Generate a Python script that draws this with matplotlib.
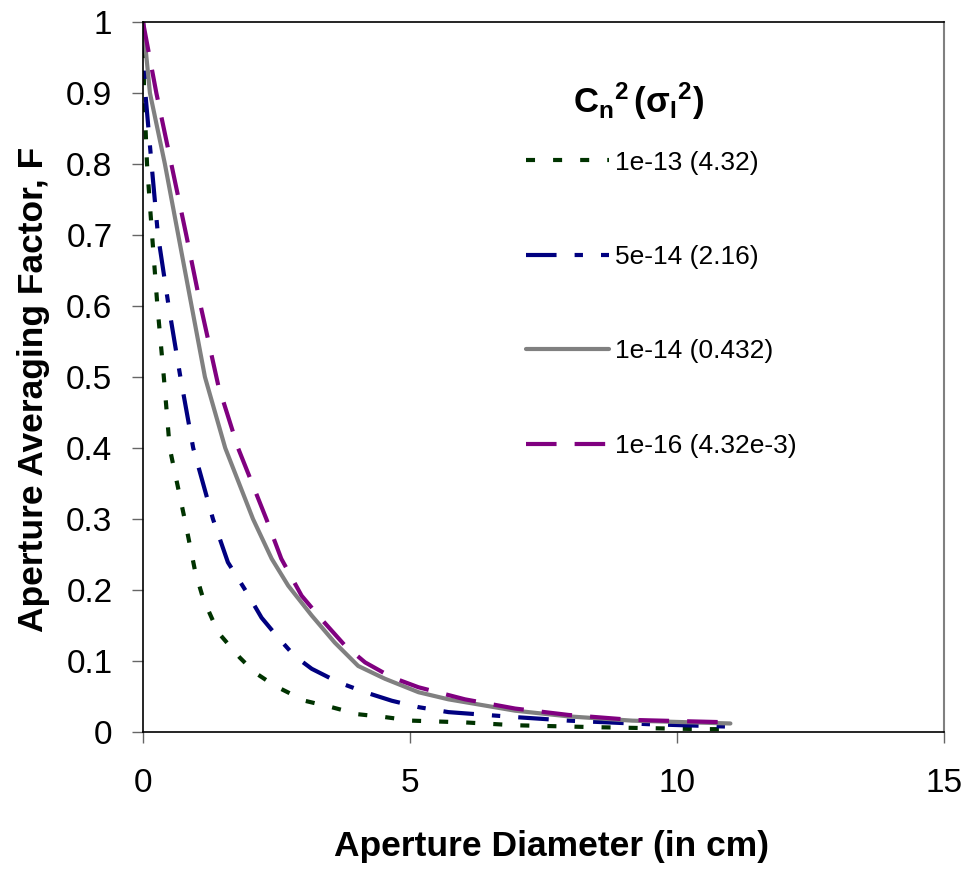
import matplotlib
matplotlib.use("Agg")
import matplotlib.pyplot as plt

plt.rcParams['font.family'] = ['Liberation Sans', 'DejaVu Sans']
plt.rcParams['mathtext.fontset'] = 'custom'
plt.rcParams['mathtext.rm'] = 'Liberation Sans'
plt.rcParams['mathtext.bf'] = 'Liberation Sans:bold'
plt.rcParams['mathtext.it'] = 'Liberation Sans:italic'
plt.rcParams['lines.scale_dashes'] = False

labels = ['1e-13 (4.32)', '5e-14 (2.16)', '1e-14 (0.432)', '1e-16 (4.32e-3)']

x_1e13 = [0, 0.02, 0.075, 0.17, 0.27, 0.39, 0.5, 0.78, 0.98, 1.13, 1.41, 1.81, 2.09, 2.47,
          3.03, 3.53, 4.03, 4.53, 5.03, 6.03, 6.97, 8.53, 10.5, 11.0]
F_1e13 = [1, 0.9, 0.8, 0.7, 0.6, 0.5, 0.4, 0.3, 0.225, 0.187, 0.140, 0.105, 0.084, 0.065,
          0.044, 0.035, 0.025, 0.021, 0.016, 0.0135, 0.0095, 0.0067, 0.004, 0.004]

x_5e14 = [0, 0.044, 0.16, 0.28, 0.48, 0.70, 0.94, 1.31, 1.59, 1.94, 2.22, 2.53, 2.84, 3.16,
          3.66, 4.16, 4.66, 5.16, 5.72, 6.97, 7.97, 9.47, 11.0]
F_5e14 = [1, 0.9, 0.8, 0.7, 0.6, 0.5, 0.4, 0.3, 0.239, 0.197, 0.161, 0.133, 0.107, 0.089,
          0.070, 0.056, 0.044, 0.035, 0.028, 0.021, 0.016, 0.011, 0.0075]

x_1e14 = [0, 0.13, 0.41, 0.66, 0.91, 1.16, 1.54, 2.06, 2.41, 2.72, 3.16, 3.59, 4.03, 4.53,
          5.16, 5.72, 6.97, 7.97, 9.16, 11.0]
F_1e14 = [1, 0.9, 0.8, 0.7, 0.6, 0.5, 0.4, 0.3, 0.244, 0.206, 0.164, 0.126, 0.093, 0.075,
          0.056, 0.046, 0.030, 0.022, 0.016, 0.012]

x_1e16 = [0, 0.25, 0.53, 0.81, 1.08, 1.41, 1.78, 2.31, 2.59, 2.97, 3.34, 3.78, 4.16, 4.66,
          5.16, 6.03, 6.97, 7.97, 9.16, 11.0]
F_1e16 = [1, 0.9, 0.8, 0.7, 0.6, 0.488, 0.4, 0.3, 0.244, 0.192, 0.159, 0.122, 0.098, 0.077,
          0.063, 0.046, 0.033, 0.024, 0.017, 0.0136]

xticks = [0, 5, 10, 15]
yticks = [0, 0.1, 0.2, 0.3, 0.4, 0.5, 0.6, 0.7, 0.8, 0.9, 1]
yticklabels = ['0', '0.1', '0.2', '0.3', '0.4', '0.5', '0.6', '0.7', '0.8', '0.9', '1']

fig = plt.figure(figsize=(9.67, 8.69), dpi=100)
ax = fig.add_axes([143/967, 1 - 732/869, (944 - 143)/967, (732 - 22)/869])

lw = 3.0
ax.plot(x_1e13, F_1e13, color='#003300', lw=lw, linestyle=(0, (6.5, 13)), label=labels[0],
        dash_capstyle='butt')
ax.plot(x_5e14, F_5e14, color='#000080', lw=lw, linestyle=(0, (22, 13, 6, 13)), label=labels[1],
        dash_capstyle='butt')
ax.plot(x_1e14, F_1e14, color='#808080', lw=lw, linestyle='-', label=labels[2],
        solid_capstyle='round')
ax.plot(x_1e16, F_1e16, color='#800080', lw=lw, linestyle=(0, (22, 13)), label=labels[3],
        dash_capstyle='butt')

ax.set_xlim(0, 15)
ax.set_ylim(0, 1)
ax.set_xticks(xticks)
ax.set_xticklabels([str(t) for t in xticks])
ax.set_yticks(yticks)
ax.set_yticklabels(yticklabels)
ax.tick_params(axis='both', labelsize=24, length=8, width=1, color='#666666', direction='out')
ax.tick_params(axis='x', pad=18)
ax.tick_params(axis='y', pad=14)

for s in ['left', 'bottom', 'top']:
    ax.spines[s].set_color('black')
    ax.spines[s].set_linewidth(1.2)
ax.spines['right'].set_color('#808080')
ax.spines['right'].set_linewidth(1.5)

ax.set_xlabel('Aperture Diameter (in cm)', fontsize=25.5, fontweight='bold', labelpad=22)
ax.set_ylabel('Aperture Averaging Factor, F', fontsize=25.5, fontweight='bold', labelpad=12)
ax.xaxis.label.set_x(0.51)
ax.yaxis.label.set_y(0.482)

leg = ax.legend(loc='upper left', bbox_to_anchor=(0.478, 0.819), frameon=False,
                fontsize=19, handlelength=3.15, handletextpad=0.22, labelspacing=2.67,
                borderpad=0, borderaxespad=0)

ax.text(0.619, 0.888, r'$\mathbf{C_n{}^{2}\,(\sigma_I{}^{2})}$', transform=ax.transAxes,
        fontsize=25, ha='center', va='center')

fig.savefig('out.png', dpi=100)
